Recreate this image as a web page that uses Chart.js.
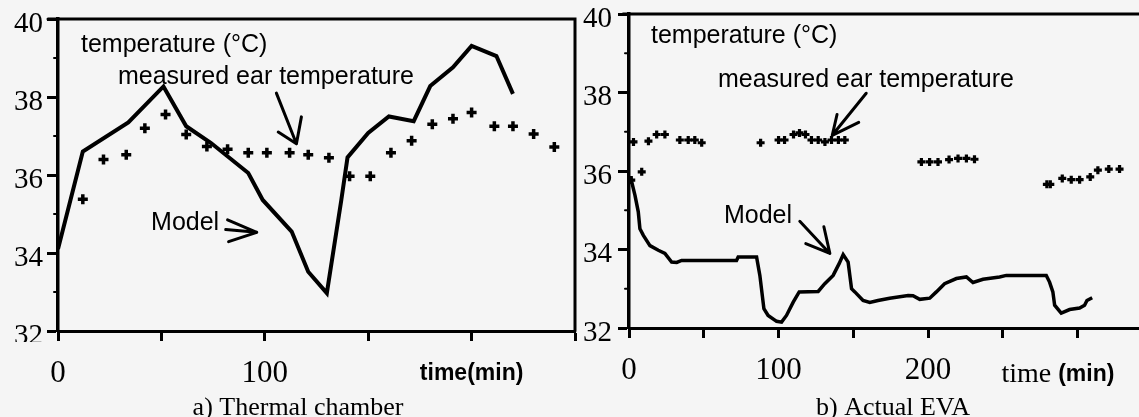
<!DOCTYPE html>
<html>
<head>
<meta charset="utf-8">
<script src="https://cdn.jsdelivr.net/npm/chart.js@4/dist/chart.umd.min.js"></script>
<style>
  body { margin: 0; background: #f5f5f5; width: 1139px; height: 417px; overflow: hidden; position: relative }
  canvas { position: absolute; top: 0 }
  #chamber { left: 0 }
  #eva { left: 577px }
</style>
</head>
<body>
<canvas id="chamber" width="577" height="417" style="width:577px;height:417px"></canvas>
<canvas id="eva" width="562" height="417" style="width:562px;height:417px"></canvas>
<script>
// a) thermal chamber
const chamberModelTime = [0, 12, 34, 51, 62, 74, 92, 99, 113, 121, 130, 137, 140, 150, 160, 172, 180, 191, 200, 212, 220]
const chamberModelTemp = [34.1, 36.6, 37.35, 38.27, 37.25, 36.82, 36.05, 35.36, 34.55, 33.52, 32.97, 35.36, 36.45, 37.08, 37.5, 37.38, 38.28, 38.76, 39.31, 39.05, 38.08]
const chamberEarTime = [12, 22, 33, 42, 52, 62, 72, 82, 92, 101, 112, 121, 131, 141, 151, 161, 171, 181, 191, 200, 211, 220, 230, 240]
const chamberEarTemp = [35.38, 36.4, 36.52, 37.2, 37.55, 37.04, 36.73, 36.66, 36.57, 36.57, 36.57, 36.52, 36.44, 35.97, 35.97, 36.57, 36.88, 37.3, 37.44, 37.6, 37.25, 37.25, 37.05, 36.72]

// b) actual EVA
const evaModelTime = [1, 4, 6.2, 7.3, 9.6, 14, 19.6, 24, 28.5, 31.9, 35.2, 71.9, 73, 85.3, 87.5, 90.2, 93, 98.7, 102, 105.3, 109.8, 113.8, 126.5, 130.9, 136.5, 140.5, 143.2, 146.5, 148.8, 151, 156.5, 161, 166.5, 174.3, 186.6, 189.9, 194.4, 201.1, 205.5, 211, 218.9, 225.6, 230, 236.7, 247.8, 252.3, 279, 281.2, 283.4, 284.6, 289, 294.6, 301.3, 304.6, 306.2, 309.7]
const evaModelTemp = [35.85, 35.38, 34.96, 34.53, 34.36, 34.1, 33.98, 33.9, 33.68, 33.67, 33.72, 33.72, 33.81, 33.81, 33.34, 32.49, 32.32, 32.17, 32.15, 32.32, 32.66, 32.92, 32.93, 33.13, 33.34, 33.64, 33.87, 33.68, 33.0, 32.92, 32.7, 32.65, 32.7, 32.76, 32.83, 32.82, 32.73, 32.76, 32.92, 33.13, 33.26, 33.3, 33.16, 33.24, 33.3, 33.34, 33.34, 33.17, 32.92, 32.58, 32.38, 32.47, 32.51, 32.58, 32.7, 32.77]
const evaEarTime = [1.5, 3, 8.5, 13, 18.5, 24, 34, 39.6, 44, 48.6, 88, 100, 104, 110, 114, 118, 122, 126.5, 131, 135.4, 140, 144.3, 195.5, 201, 206.6, 214, 220, 225.6, 231, 279.4, 281.7, 289.7, 295.7, 301.3, 308.4, 313.5, 320.8, 328]
const evaEarTemp = [35.77, 36.74, 35.98, 36.76, 36.93, 36.93, 36.79, 36.79, 36.79, 36.72, 36.72, 36.79, 36.79, 36.93, 36.97, 36.93, 36.79, 36.79, 36.74, 36.79, 36.79, 36.79, 36.23, 36.23, 36.23, 36.29, 36.32, 36.32, 36.3, 35.66, 35.66, 35.81, 35.78, 35.78, 35.85, 36.02, 36.05, 36.05]

// tick labels
const tempTicks = [32, 34, 36, 38, 40]
const chamberTimeTicks = [0, 100, 200]
const chamberTimeText = ['0', '100', 'time(min)']
const evaTimeTicks = [0, 100, 200]
const evaTimeText = ['0', '100', '200']

const SANS = 'Liberation Sans'
const SERIF = 'Liberation Serif'
const BG = '#f5f5f5'

const points = (xs, ys) => xs.map((x, i) => ({ x, y: ys[i] }))

// text, arrows, frame and captions drawn on top of each panel
function decor(cfg) {
  return {
    id: 'decor',
    afterDraw(chart) {
      const { ctx, chartArea: a, scales: { x, y } } = chart
      const px = (p) => [x.getPixelForValue(p[0]), y.getPixelForValue(p[1])]
      ctx.save()
      // the scan is cut just under the x axis
      ctx.fillStyle = BG
      ctx.fillRect(0, 342, a.left - 4, 10)
      ctx.strokeStyle = '#000'
      ctx.fillStyle = '#000'
      ctx.lineCap = 'round'
      // frame
      ctx.lineWidth = 3
      ctx.beginPath()
      ctx.moveTo(a.left - cfg.topOverhang, a.top)
      ctx.lineTo(a.right, a.top)
      if (cfg.rightBorder) ctx.lineTo(a.right, a.bottom)
      ctx.stroke()
      // minor y ticks
      ctx.lineWidth = 2
      for (let v = 33; v < 40; v += 2) {
        const yy = y.getPixelForValue(v)
        ctx.beginPath()
        ctx.moveTo(a.left - 4, yy)
        ctx.lineTo(a.left, yy)
        ctx.stroke()
      }
      // labels
      ctx.font = `25px "${SANS}"`
      ctx.textBaseline = 'middle'
      ctx.textAlign = 'left'
      cfg.texts.forEach((t) => {
        const [tx, ty] = px(t.at)
        ctx.fillText(t.text, tx, ty)
      })
      // arrows
      ctx.lineWidth = 3
      ctx.lineJoin = 'round'
      cfg.arrows.forEach((ar) => {
        const from = px(ar.from)
        const to = px(ar.to)
        ctx.beginPath()
        ctx.moveTo(...from)
        ctx.lineTo(...to)
        ar.wings.forEach((w) => {
          ctx.moveTo(...px(w))
          ctx.lineTo(...to)
        })
        ctx.stroke()
      })
      // extra axis label
      if (cfg.axisLabel) {
        let [lx] = px([cfg.axisLabel.at, 0])
        const ly = 382
        ctx.textBaseline = 'alphabetic'
        ctx.font = `28px "${SERIF}"`
        ctx.fillText('time ', lx, ly)
        lx += ctx.measureText('time ').width
        ctx.font = `bold 23px "${SANS}"`
        ctx.fillText('(min)', lx, ly - 1)
      }
      // caption
      ctx.textAlign = 'center'
      ctx.textBaseline = 'alphabetic'
      ctx.font = `26px "${SERIF}"`
      ctx.fillText(cfg.caption, cfg.captionX, 415)
      ctx.restore()
    },
  }
}

function makeChart(id, o) {
  return new Chart(document.getElementById(id), {
    type: 'line',
    data: {
      datasets: [
        {
          data: points(o.modelTime, o.modelTemp),
          borderColor: '#000',
          borderWidth: o.lineWidth,
          pointRadius: 0,
          tension: 0,
          fill: false,
        },
        {
          data: points(o.earTime, o.earTemp),
          showLine: false,
          pointStyle: 'cross',
          pointRadius: o.markerSize,
          pointBorderWidth: o.markerWidth,
          pointBorderColor: '#000',
          pointBackgroundColor: '#000',
        },
      ],
    },
    options: {
      responsive: false,
      animation: false,
      events: [],
      layout: { autoPadding: false, padding: { top: o.top, right: o.right, left: 0, bottom: 0 } },
      plugins: { legend: { display: false }, tooltip: { enabled: false } },
      scales: {
        x: {
          type: 'linear',
          min: 0,
          max: o.xMax,
          afterFit: (s) => {
            s.height = o.xHeight
            s.paddingLeft = 0
            s.paddingRight = 0
          },
          border: { display: true, color: '#000', width: 3 },
          grid: { drawOnChartArea: false, drawTicks: true, tickLength: 10, tickWidth: 3, tickColor: '#000' },
          ticks: {
            stepSize: 50,
            includeBounds: false,
            autoSkip: false,
            maxRotation: 0,
            padding: 14,
            color: '#000',
            font: (c) => (c.tick && o.timeText[o.timeTicks.indexOf(c.tick.value)] === 'time(min)'
              ? { family: SANS, size: 23, weight: 'bold', lineHeight: 1.6 }
              : { family: SERIF, size: 31 }),
            callback: (v) => {
              const i = o.timeTicks.indexOf(v)
              return i < 0 ? '' : o.timeText[i]
            },
          },
        },
        y: {
          min: 32,
          max: 40,
          afterFit: (s) => {
            s.width = o.yWidth
            s.paddingTop = 0
            s.paddingBottom = 0
          },
          border: { display: true, color: '#000', width: 3.5 },
          grid: { drawOnChartArea: false, drawTicks: true, tickLength: 11, tickWidth: 3, tickColor: '#000' },
          ticks: {
            stepSize: 2,
            autoSkip: false,
            padding: o.yPad,
            labelOffset: 5,
            color: '#000',
            font: { family: SERIF, size: 29 },
            callback: (v) => (tempTicks.includes(v) ? String(v) : ''),
          },
        },
      },
    },
    plugins: [decor(o.decor)],
  })
}

makeChart('chamber', {
  modelTime: chamberModelTime,
  modelTemp: chamberModelTemp,
  earTime: chamberEarTime,
  earTemp: chamberEarTemp,
  timeTicks: chamberTimeTicks,
  timeText: chamberTimeText,
  xMax: 250,
  top: 19,
  right: 2,
  xHeight: 86,
  yWidth: 58,
  yPad: 4,
  lineWidth: 4,
  markerSize: 5,
  markerWidth: 3.5,
  decor: {
    rightBorder: true,
    topOverhang: 10,
    texts: [
      { at: [11.1, 39.33], text: 'temperature (°C)' },
      { at: [29, 38.51], text: 'measured ear temperature' },
      { at: [45, 34.77], text: 'Model' },
    ],
    arrows: [
      { from: [105.6, 38.1], to: [115.3, 36.8], wings: [[106.5, 37.1], [117.7, 37.49]] },
      { from: [81.1, 34.6], to: [96.1, 34.53], wings: [[82, 34.85], [82.5, 34.29]] },
    ],
    caption: 'a) Thermal chamber',
    captionX: 298,
  },
})

makeChart('eva', {
  modelTime: evaModelTime,
  modelTemp: evaModelTemp,
  earTime: evaEarTime,
  earTemp: evaEarTemp,
  timeTicks: evaTimeTicks,
  timeText: evaTimeText,
  xMax: 341,
  top: 14,
  right: 0,
  xHeight: 89,
  yWidth: 52,
  yPad: 6,
  lineWidth: 3.5,
  markerSize: 4,
  markerWidth: 3.2,
  decor: {
    rightBorder: false,
    topOverhang: 6,
    texts: [
      { at: [14.7, 39.43], text: 'temperature (°C)' },
      { at: [59.5, 38.31], text: 'measured ear temperature' },
      { at: [63.5, 34.86], text: 'Model' },
    ],
    arrows: [
      { from: [158.6, 37.98], to: [135.9, 36.91], wings: [[139.1, 37.44], [153.6, 37.24]] },
      { from: [114.2, 34.72], to: [134.3, 33.9], wings: [[118.2, 34.15], [130.3, 34.58]] },
    ],
    axisLabel: { at: 249 },
    caption: 'b) Actual EVA',
    captionX: 316,
  },
})
</script>
</body>
</html>
